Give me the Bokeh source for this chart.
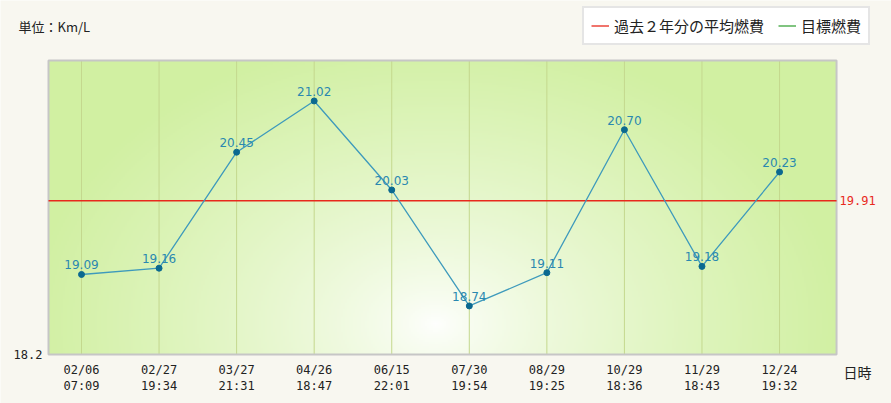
import numpy as np
from bokeh.core.properties import value
from bokeh.embed import file_html
from bokeh.models import (ColumnDataSource, Label, LabelSet, Legend, LegendItem, Range1d)
from bokeh.plotting import figure
from bokeh.resources import INLINE

# data
dates = ["02/06", "02/27", "03/27", "04/26", "06/15", "07/30", "08/29", "10/29", "11/29", "12/24"]
times = ["07:09", "19:34", "21:31", "18:47", "22:01", "19:54", "19:25", "18:36", "18:43", "19:32"]
fuel = [19.09, 19.16, 20.45, 21.02, 20.03, 18.74, 19.11, 20.70, 19.18, 20.23]
avg_2y = 19.91
goal = float("nan")  # no target set
y_min = 18.2
y_max = 21.47

MONO = "DejaVu Sans Mono"
CJK = "Noto Sans CJK JP"
INK = "#222222"
RED = "#E8291C"

idx = list(range(len(fuel)))
source = ColumnDataSource(dict(x=idx, y=fuel, lbl=[f"{v:.2f}" for v in fuel]))
ticks = ColumnDataSource(dict(x=idx, y=[y_min] * len(idx),
                              lbl=[f"{d}\n{t}" for d, t in zip(dates, times)]))

# plot area in data units, and the full canvas around it
x0, x1 = -0.4255, len(fuel) - 1 + 0.735
px_x = 77.56
px_y = 294 / (y_max - y_min)
cx0, cx1 = -81 / px_x, (891 - 81) / px_x
cy0, cy1 = y_min - 49 / px_y, y_min + 354 / px_y

p = figure(width=891, height=403, output_backend="svg", toolbar_location=None, title=None,
           x_range=Range1d(cx0, cx1), y_range=Range1d(cy0, cy1),
           min_border=0, x_axis_type=None, y_axis_type=None,
           background_fill_color="#F8F7F0", border_fill_color="#F8F7F0",
           outline_line_color=None)
p.xgrid.grid_line_color = None
p.ygrid.grid_line_color = None

# radial gradient backdrop of the plot area
H, W = 147, 394
yy, xx = np.mgrid[0:H, 0:W]
gx, gy = 0.49 * W, 0.1 * H
d = np.sqrt(((xx - gx) / (0.52 * W)) ** 2 + ((yy - gy) / (1.0 * H)) ** 2)
t = np.clip(d, 0, 1) ** 0.75
white = np.array([255, 255, 255])
green = np.array([209, 240, 162])
rgb = white[None, None, :] * (1 - t[..., None]) + green[None, None, :] * t[..., None]
img = np.zeros((H, W), dtype=np.uint32)
view = img.view(dtype=np.uint8).reshape((H, W, 4))
view[..., 0] = rgb[..., 0]
view[..., 1] = rgb[..., 1]
view[..., 2] = rgb[..., 2]
view[..., 3] = 255
p.image_rgba(image=[img], x=x0, y=y_min, dw=x1 - x0, dh=y_max - y_min)

# vertical grid lines
p.segment(x0=idx, y0=[y_min] * len(idx), x1=idx, y1=[y_max] * len(idx),
          line_color="#C4D88E", line_width=1)

# plot area border
p.quad(left=[x0], right=[x1], bottom=[y_min], top=[y_max], fill_color=None,
       line_color="#C6C6C6", line_width=2)

avg_line = p.line(x=[x0, x1], y=[avg_2y, avg_2y], line_color=RED, line_width=1.3)
goal_line = p.line(x=[x0, x1], y=[goal, goal], line_color="#3BA53B", line_width=1.3)

p.line("x", "y", source=source, line_color="#3E9ABC", line_width=1.3)
p.scatter("x", "y", source=source, size=6, fill_color="#0B6990", line_color="#0B6990")
p.add_layout(LabelSet(x="x", y="y", text="lbl", source=source, y_offset=5,
                      text_align="center", text_baseline="bottom",
                      text_font=value("DejaVu Sans"), text_font_size="12px",
                      text_color="#2A88B0"))

# tick labels
p.add_layout(LabelSet(x="x", y="y", text="lbl", source=ticks, y_offset=-8,
                      text_align="center", text_baseline="top",
                      text_font=value(MONO), text_font_size="12px",
                      text_line_height=1.2, text_color=INK))
p.add_layout(Label(x=x0, y=y_min, x_offset=-6, text=f"{y_min}", text_align="right",
                   text_baseline="middle", text_font=MONO, text_font_size="12px",
                   text_color=INK))
p.add_layout(Label(x=x1, y=avg_2y, x_offset=3, text=f"{avg_2y:.2f}", text_align="left",
                   text_baseline="middle", text_font=MONO, text_font_size="12px",
                   text_color=RED))
p.add_layout(Label(x=x1, y=y_min, x_offset=7, y_offset=-17, text="日時", text_align="left",
                   text_baseline="middle", text_font=CJK, text_font_size="14px",
                   text_color=INK))
p.add_layout(Label(x=18, y=377, x_units="screen", y_units="screen", text="単位：Km/L",
                   text_baseline="middle", text_font=CJK, text_font_size="13px",
                   text_color=INK))

legend = Legend(items=[LegendItem(label="過去２年分の平均燃費", renderers=[avg_line]),
                       LegendItem(label="目標燃費", renderers=[goal_line])],
                orientation="horizontal", location=(582, 358),
                label_text_font=CJK, label_text_font_size="15px", label_text_color=INK,
                glyph_width=18, glyph_height=15, spacing=14, padding=7, margin=0,
                label_standoff=5, border_line_color="#CCCCCC", border_line_width=2,
                background_fill_color="white", background_fill_alpha=1.0)
p.add_layout(legend, "center")

open("out.html", "w").write(file_html(p, INLINE))
